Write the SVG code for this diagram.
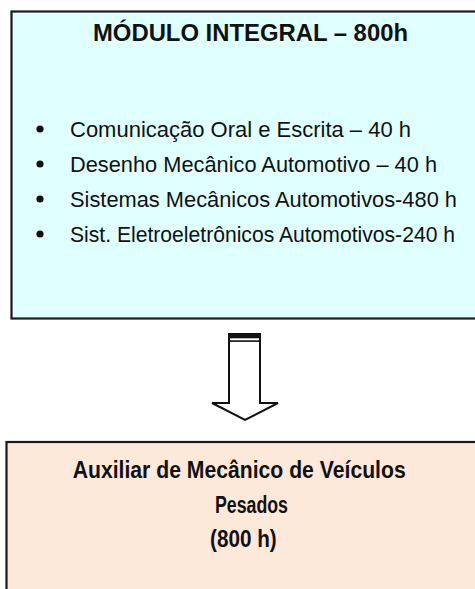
<svg xmlns="http://www.w3.org/2000/svg" width="475" height="589" viewBox="0 0 475 589">
<style>
.box{stroke:#1a1a1a;stroke-width:2.2}
.t{font-family:"Liberation Sans",Arial,sans-serif;fill:#111}
.b{font-weight:bold;font-size:23.5px}
.item{font-size:22px}
</style>
<rect width="475" height="589" fill="#ffffff"/>
<g id="modulo">
<rect class="box" x="11.5" y="11.5" width="470" height="307" fill="#e0ffff"/>
<text class="t b" x="93" y="41" textLength="315" lengthAdjust="spacingAndGlyphs">MÓDULO INTEGRAL – 800h</text>
<g fill="#111">
<circle cx="40" cy="129" r="3.6"/>
<circle cx="40" cy="164" r="3.6"/>
<circle cx="40" cy="199" r="3.6"/>
<circle cx="40" cy="234" r="3.6"/>
</g>
<text class="t item" x="70" y="137" textLength="341" lengthAdjust="spacingAndGlyphs">Comunicação Oral e Escrita – 40 h</text>
<text class="t item" x="70" y="172" textLength="367" lengthAdjust="spacingAndGlyphs">Desenho Mecânico Automotivo – 40 h</text>
<text class="t item" x="70" y="207" textLength="387" lengthAdjust="spacingAndGlyphs">Sistemas Mecânicos Automotivos-480 h</text>
<text class="t item" x="70" y="242" textLength="385" lengthAdjust="spacingAndGlyphs">Sist. Eletroeletrônicos Automotivos-240 h</text>
</g>
<g id="connectors">
<polygon points="229,334 260,334 260,403 278,403 245,420 212,403 229,403" fill="#ffffff" stroke="#111" stroke-width="2" stroke-linejoin="miter"/>
<rect x="228" y="333" width="33" height="5.3" fill="#111"/>
<rect x="228" y="340.3" width="33" height="1.6" fill="#111"/>
</g>
<g id="auxiliar">
<rect class="box" x="6.5" y="442" width="475" height="160" fill="#fde9d9"/>
<text class="t b" x="72.7" y="478" textLength="333" lengthAdjust="spacingAndGlyphs">Auxiliar de Mecânico de Veículos</text>
<text class="t b" x="215" y="513" textLength="73" lengthAdjust="spacingAndGlyphs">Pesados</text>
<text class="t b" x="210" y="547" textLength="66.7" lengthAdjust="spacingAndGlyphs">(800 h)</text>
</g>
</svg>
